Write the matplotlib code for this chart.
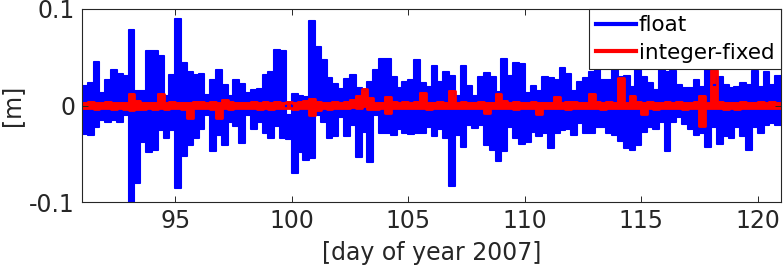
import numpy as np
import matplotlib
matplotlib.use("Agg")
import matplotlib.pyplot as plt

plt.rcParams["font.family"] = ["DejaVu Sans"]
plt.rcParams["axes.unicode_minus"] = False

# bin start (day of year), 0.25 day bins from 91 to 121
BIN_START = np.arange(91.0, 121.0, 0.25)

# float solution: upper / lower excursion in each bin [cm]
FLOAT_UP = [
    2.0, 2.3, 4.5, 1.3,   2.6, 3.7, 3.3, 3.1,   7.8, 1.5, 1.5, 5.6,
    5.6, 5.1, 1.0, 3.2,   9.0, 4.4, 3.5, 3.2,   3.3, 1.1, 2.6, 3.7,
    2.1, 1.0, 2.6, 2.2,   1.3, 1.6, 1.7, 3.2,   3.5, 5.8, 5.6, -1.0,
    1.2, 1.0, 0.9, 8.75,  6.1, 4.7, 2.9, 2.2,   1.7, 2.7, 3.2, 1.8,
    1.6, 2.4, 3.7, 4.8,   4.8, 3.0, 1.8, 2.4,   2.6, 4.7, 2.3, 1.9,
    4.1, 2.4, 3.5, 3.1,   1.0, 4.1, 2.0, 1.0,   3.0, 3.4, 3.0, 1.4,
    4.8, 3.1, 4.4, 4.3,   1.3, 2.0, 1.5, 3.0,   2.9, 2.6, 3.9, 3.3,
    1.5, 2.4, 2.9, 3.5,   3.8, 2.6, 2.6, 3.9,   3.0, 3.1, 1.9, 3.9,
    3.0, 2.3, 1.6, 3.8,   3.5, 3.6, 2.1, 1.8,   1.8, 2.6, 1.9, 3.8,
    2.1, 3.0, 2.1, 1.8,   1.9, 2.3, 2.1, 3.6,   1.9, 3.5, 2.1, 3.1,
]
FLOAT_LO = [
    -3.0, -3.1, -2.2, -1.5,   -1.7, -1.5, -1.7, -1.0,   -10.0, -8.0, -3.8, -4.8,
    -4.6, -2.5, -3.4, -2.5,   -8.5, -5.2, -4.1, -3.4,   -2.4, -1.0, -4.7, -3.1,
    -4.1, -1.7, -2.1, -3.9,   -1.0, -2.4, -1.7, -2.8,   -3.4, -2.1, -3.4, -3.5,
    -7.0, -4.8, -5.6, -5.4,   -1.0, -1.7, -3.4, -3.2,   -1.2, -3.2, -2.0, -5.3,
    -2.7, -5.9, -1.0, -2.8,   -2.8, -3.1, -2.4, -2.9,   -3.0, -2.9, -2.8, -2.2,
    -3.2, -2.4, -3.4, -8.3,   -3.1, -4.3, -2.0, -2.3,   -2.0, -4.1, -4.6, -5.7,
    -4.7, -2.2, -3.4, -4.0,   -3.8, -2.7, -3.2, -2.9,   -4.4, -2.9, -2.5, -2.4,
    -3.1, -1.8, -2.9, -2.9,   -2.2, -2.2, -2.9, -3.1,   -3.7, -4.4, -4.6, -4.1,
    -2.7, -2.2, -2.4, -1.7,   -4.7, -1.7, -1.2, -1.9,   -2.4, -3.1, -2.9, -4.3,
    -2.2, -4.0, -3.2, -3.4,   -2.2, -3.2, -4.6, -2.2,   -2.9, -2.0, -1.8, -2.0,
]

# integer-fixed solution [cm]
FIXED_UP = [
    0.3, 0.4, 0.3, 0.3,   0.4, 0.3, 0.3, 0.3,   1.2, 0.5, 0.3, 0.3,
    0.3, 1.2, 0.3, 0.4,   0.3, 0.3, 0.3, 0.4,   0.4, 0.3, 0.4, 0.3,
    0.6, 0.4, 0.3, 0.3,   0.3, 0.4, 0.3, 0.4,   0.3, 0.4, 0.3, 0.4,
    0.3, 0.4, 0.5, 0.7,   0.4, 0.3, 0.3, 0.4,   0.3, 0.4, 0.6, 1.0,
    1.7, 0.8, 0.3, 0.3,   0.9, 0.4, 0.3, 0.4,   0.3, 0.4, 1.3, 0.3,
    0.3, 0.4, 0.3, 1.5,   0.3, 0.4, 0.3, 0.3,   0.4, 0.3, 0.3, 1.2,
    0.5, 0.3, 0.4, 0.3,   0.3, 0.4, 0.3, 0.3,   0.3, 0.9, 0.3, 0.4,
    0.4, 0.3, 0.3, 1.2,   0.4, 0.3, 0.4, 0.3,   2.9, 0.3, 1.0, 0.4,
    0.3, 0.4, 0.3, 0.3,   0.4, 0.3, 0.4, 0.3,   0.3, 0.4, 1.0, 0.3,
    3.7, 0.4, 0.3, 0.3,   0.3, 0.4, 0.3, 0.3,   0.4, 0.3, 0.4, 0.3,
]
FIXED_LO = [
    -0.3, -0.3, -0.4, -0.3,   -0.3, -0.4, -0.3, -0.4,   -0.5, -0.4, -0.4, -0.3,
    -0.4, -0.3, -0.4, -0.3,   -0.3, -0.4, -1.3, -0.3,   -0.3, -0.3, -0.4, -1.3,
    -0.3, -0.4, -0.3, -0.3,   -0.3, -0.3, -0.4, -0.3,   -0.4, -0.3, -0.3, -0.3,
    -0.4, -0.3, -0.3, -1.0,   -0.5, -0.3, -0.4, -0.3,   -0.3, -0.3, -0.2, -0.3,
    0.0, -0.4, -0.4, -0.3,    -0.75, -0.3, -0.3, -0.3,  -0.3, -0.3, -0.3, -0.4,
    -0.3, -0.3, -0.3, -0.3,   -0.3, -0.3, -0.3, -0.3,   -0.3, -0.8, -0.3, -0.3,
    -0.3, -0.3, -0.4, -0.3,   -0.3, -0.3, -0.9, -0.3,   -0.3, -0.3, -0.3, -0.4,
    -0.3, -0.3, -0.3, -0.3,   -0.3, -0.4, -0.3, -0.3,   -0.3, -0.3, -0.3, -0.3,
    -0.9, -0.3, -0.4, -0.3,   -0.3, -0.3, -0.3, -0.4,   -0.3, -0.3, -2.1, -0.3,
    -0.3, -0.3, -0.4, -0.3,   -0.4, -0.3, -0.3, -0.3,   -0.3, -0.3, -0.3, -0.3,
]

X_TICKS = [95, 100, 105, 110, 115, 120]
Y_TICKS = [-0.1, 0, 0.1]
Y_TICKLABELS = ["-0.1", "0", "0.1"]

GRAY = "#262626"


def band(ax, up, lo, color, label, lw):
    # blocky columns: each bin filled between its low and high excursion
    x = np.append(BIN_START, BIN_START[-1] + 0.25)
    u = np.append(up, up[-1]) / 100.0
    l = np.append(lo, lo[-1]) / 100.0
    ax.fill_between(x, l, u, step="post", color=color, lw=1.2)
    ax.step(x, u, where="post", color=color, lw=lw, label=label)
    ax.step(x, l, where="post", color=color, lw=lw)


fig = plt.figure(figsize=(7.84, 2.69), dpi=100)
ax = fig.add_axes([82 / 784, 1 - 202 / 269, (781 - 82) / 784, (202 - 9) / 269])

band(ax, FLOAT_UP, FLOAT_LO, (0, 0, 1), "float", 1.5)
band(ax, FIXED_UP, FIXED_LO, (1, 0, 0), "integer-fixed", 2.0)

ax.set_xlim(91, 121)
ax.set_ylim(-0.1, 0.1)
ax.set_xticks(X_TICKS)
ax.set_yticks(Y_TICKS)
ax.set_yticklabels(Y_TICKLABELS)
ax.tick_params(direction="in", length=4.5, width=0.7, colors=GRAY,
               labelsize=17, top=True, right=True, pad=5)
for s in ax.spines.values():
    s.set_color(GRAY)
    s.set_linewidth(0.8)
    s.set_zorder(5)

ax.set_xlabel("[day of year 2007]", fontsize=17, color=GRAY, labelpad=6)
ax.set_ylabel("[m]", fontsize=17, color=GRAY, labelpad=4)

leg = ax.legend(loc="upper right", borderaxespad=0, fontsize=15.5,
                handlelength=1.85, handletextpad=0.15, labelspacing=0.35,
                borderpad=0.3, fancybox=False, framealpha=1,
                edgecolor=GRAY)
leg.get_frame().set_linewidth(0.8)
for line in leg.get_lines():
    line.set_linewidth(3)

fig.savefig("out.png", dpi=100)
